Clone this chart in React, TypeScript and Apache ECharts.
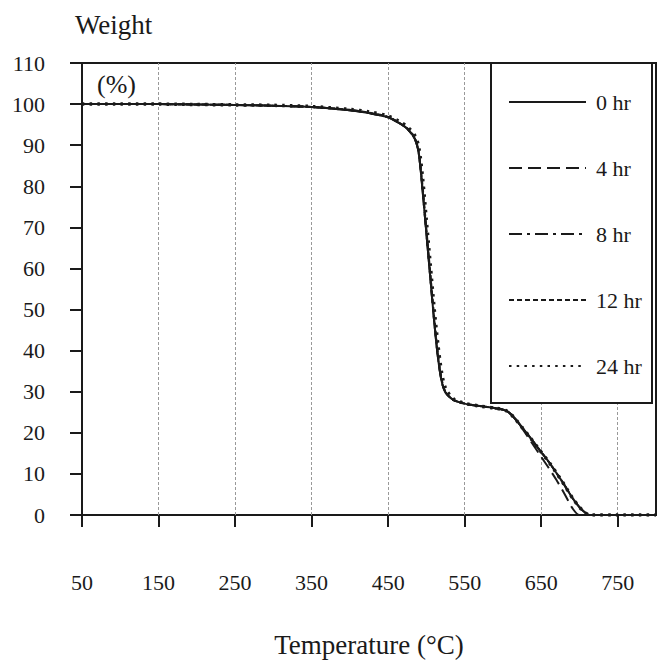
import React, { useEffect, useRef } from "react";
import * as echarts from "echarts";

// Temperature sample points (°C)
const temperatures = [50, 100, 150, 200, 250, 300, 350, 400, 425, 450, 465, 475, 485, 490, 495, 500, 505, 510, 515, 520, 525, 535, 550, 570, 590, 605, 615, 626, 637, 648, 660, 670, 680, 691, 700, 708, 713, 750, 800];

// Weight (%) per series
const weight0 = [100, 100, 100, 99.9, 99.8, 99.6, 99.3, 98.5, 97.8, 96.8, 95.3, 94.0, 91.5, 88, 79, 68.5, 58, 47.5, 38.5, 32.5, 29.8, 28.0, 27.1, 26.5, 26.0, 25.3, 23.6, 21.1, 18.5, 15.8, 12.9, 10.2, 7.4, 4.1, 1.9, 0.5, 0, 0, 0];
const weight4 = [100, 100, 100, 99.9, 99.8, 99.6, 99.3, 98.5, 97.8, 96.8, 95.3, 94.0, 91.5, 88, 79, 68.5, 58, 47.5, 38.5, 32.5, 29.8, 28.0, 27.1, 26.5, 26.0, 25.3, 23.6, 20.8, 17.8, 14.7, 11.4, 8.5, 5.3, 1.6, 0, 0, 0, 0, 0];
const weight8 = [100, 100, 100, 99.9, 99.8, 99.6, 99.3, 98.5, 97.8, 96.8, 95.3, 94.0, 91.5, 88, 79, 68.5, 58, 47.5, 38.5, 32.5, 29.8, 28.0, 27.1, 26.5, 26.0, 25.3, 23.6, 21.1, 18.5, 15.8, 12.9, 10.2, 7.4, 4.1, 1.9, 0.5, 0, 0, 0];
const weight12 = [100, 100, 100, 99.9, 99.8, 99.6, 99.3, 98.6, 97.9, 96.9, 95.4, 94.1, 91.8, 88.5, 80, 69.5, 59, 48.5, 39.5, 33, 30, 28.1, 27.1, 26.5, 26.0, 25.3, 23.6, 21.1, 18.5, 15.8, 12.9, 10.2, 7.4, 4.1, 1.9, 0.5, 0, 0, 0];
const weight24 = [100, 100, 100, 99.9, 99.8, 99.7, 99.4, 98.7, 98.1, 97.1, 95.7, 94.5, 92.3, 89.5, 82, 71.5, 61, 50.5, 41.5, 34.5, 30.8, 28.3, 27.2, 26.5, 26.0, 25.3, 23.6, 21.1, 18.5, 15.8, 12.9, 10.2, 7.4, 4.1, 1.9, 0.5, 0, 0, 0];

const seriesNames = ["0 hr", "4 hr", "8 hr", "12 hr", "24 hr"];
const xTickValues = [50, 150, 250, 350, 450, 550, 650, 750];
const xGridValues = [150, 250, 350, 450, 550, 650, 750];

const FONT = '"Liberation Serif", "Times New Roman", serif';
const INK = "#1a1a1a";

export default function App() {
  const ref = useRef<HTMLDivElement>(null);

  useEffect(() => {
    if (!ref.current) return;
    const chart = echarts.init(ref.current, undefined, { renderer: "svg" });

    const pairs = (w: number[]) => temperatures.map((t, i) => [t, w[i]]);
    const lineStyles: any[] = [
      { type: "solid", width: 2 },
      { type: [13, 6], width: 2 },
      { type: [13, 5, 3, 5], width: 2 },
      { type: [5, 3], width: 2 },
      { type: [2.5, 5.2], width: 3.5 },
    ];
    const datas = [weight0, weight4, weight8, weight12, weight24];

    const series: any[] = seriesNames.map((name, i) => ({
      name,
      type: "line",
      data: pairs(datas[i]),
      symbol: "none",
      showSymbol: false,
      smooth: 0.3,
      lineStyle: { color: INK, ...lineStyles[i] },
      itemStyle: { color: INK },
      z: 2 + i,
      ...(i === 0
        ? {
            markLine: {
              silent: true,
              symbol: ["none", "none"],
              label: { show: false },
              lineStyle: { type: [3, 2], color: "#999", width: 1 },
              data: xGridValues.map((v) => ({ xAxis: v })),
              z: 1,
            },
          }
        : {}),
    }));

    chart.setOption({
      animation: false,
      backgroundColor: "#fff",
      textStyle: { fontFamily: FONT, color: INK },
      grid: {
        left: 82,
        top: 63,
        width: 574,
        height: 452,
        outerBoundsMode: "none",
        containLabel: false,
        show: true,
        borderColor: INK,
        borderWidth: 2,
        backgroundColor: "transparent",
      },
      xAxis: {
        type: "value",
        min: 50,
        max: 800,
        name: "Temperature (°C)",
        nameLocation: "middle",
        nameGap: 116,
        nameTextStyle: { fontFamily: FONT, fontSize: 27, color: INK },
        axisLine: { show: true, lineStyle: { color: INK, width: 2 } },
        axisTick: {
          show: true,
          inside: false,
          length: 12,
          customValues: xTickValues,
          lineStyle: { color: INK, width: 2 },
        },
        axisLabel: {
          customValues: xTickValues,
          margin: 56,
          fontFamily: FONT,
          fontSize: 22,
          color: INK,
        },
        splitLine: { show: false },
      },
      yAxis: {
        type: "value",
        min: 0,
        max: 110,
        interval: 10,
        axisLine: { show: true, lineStyle: { color: INK, width: 2 } },
        axisTick: { show: true, inside: false, length: 12, lineStyle: { color: INK, width: 2 } },
        axisLabel: {
          margin: 37,
          align: "right",
          fontFamily: FONT,
          fontSize: 22,
          color: INK,
        },
        splitLine: { show: false },
      },
      legend: {
        data: seriesNames,
        orient: "vertical",
        left: 503,
        top: 86,
        itemWidth: 77,
        itemHeight: 14,
        itemGap: 44,
        z: 10,
        itemStyle: { opacity: 0 },
        textStyle: { fontFamily: FONT, fontSize: 22, color: INK, padding: [0, 0, 0, 5] },
      },
      graphic: [
        {
          type: "rect",
          z: 8,
          shape: { x: 491, y: 63, width: 161, height: 340 },
          style: { fill: "#fff", stroke: INK, lineWidth: 2 },
        },
        {
          type: "text",
          left: 75,
          top: 11,
          style: { text: "Weight", font: `27px ${FONT}`, fill: INK },
        },
        {
          type: "text",
          left: 97,
          top: 71,
          z: 9,
          style: { text: "(%)", font: `26px ${FONT}`, fill: INK },
        },
      ],
      series,
    });

    return () => chart.dispose();
  }, []);

  return (
    <div
      ref={ref}
      style={{ position: "fixed", left: 0, top: 0, width: 657, height: 662 }}
    />
  );
}
